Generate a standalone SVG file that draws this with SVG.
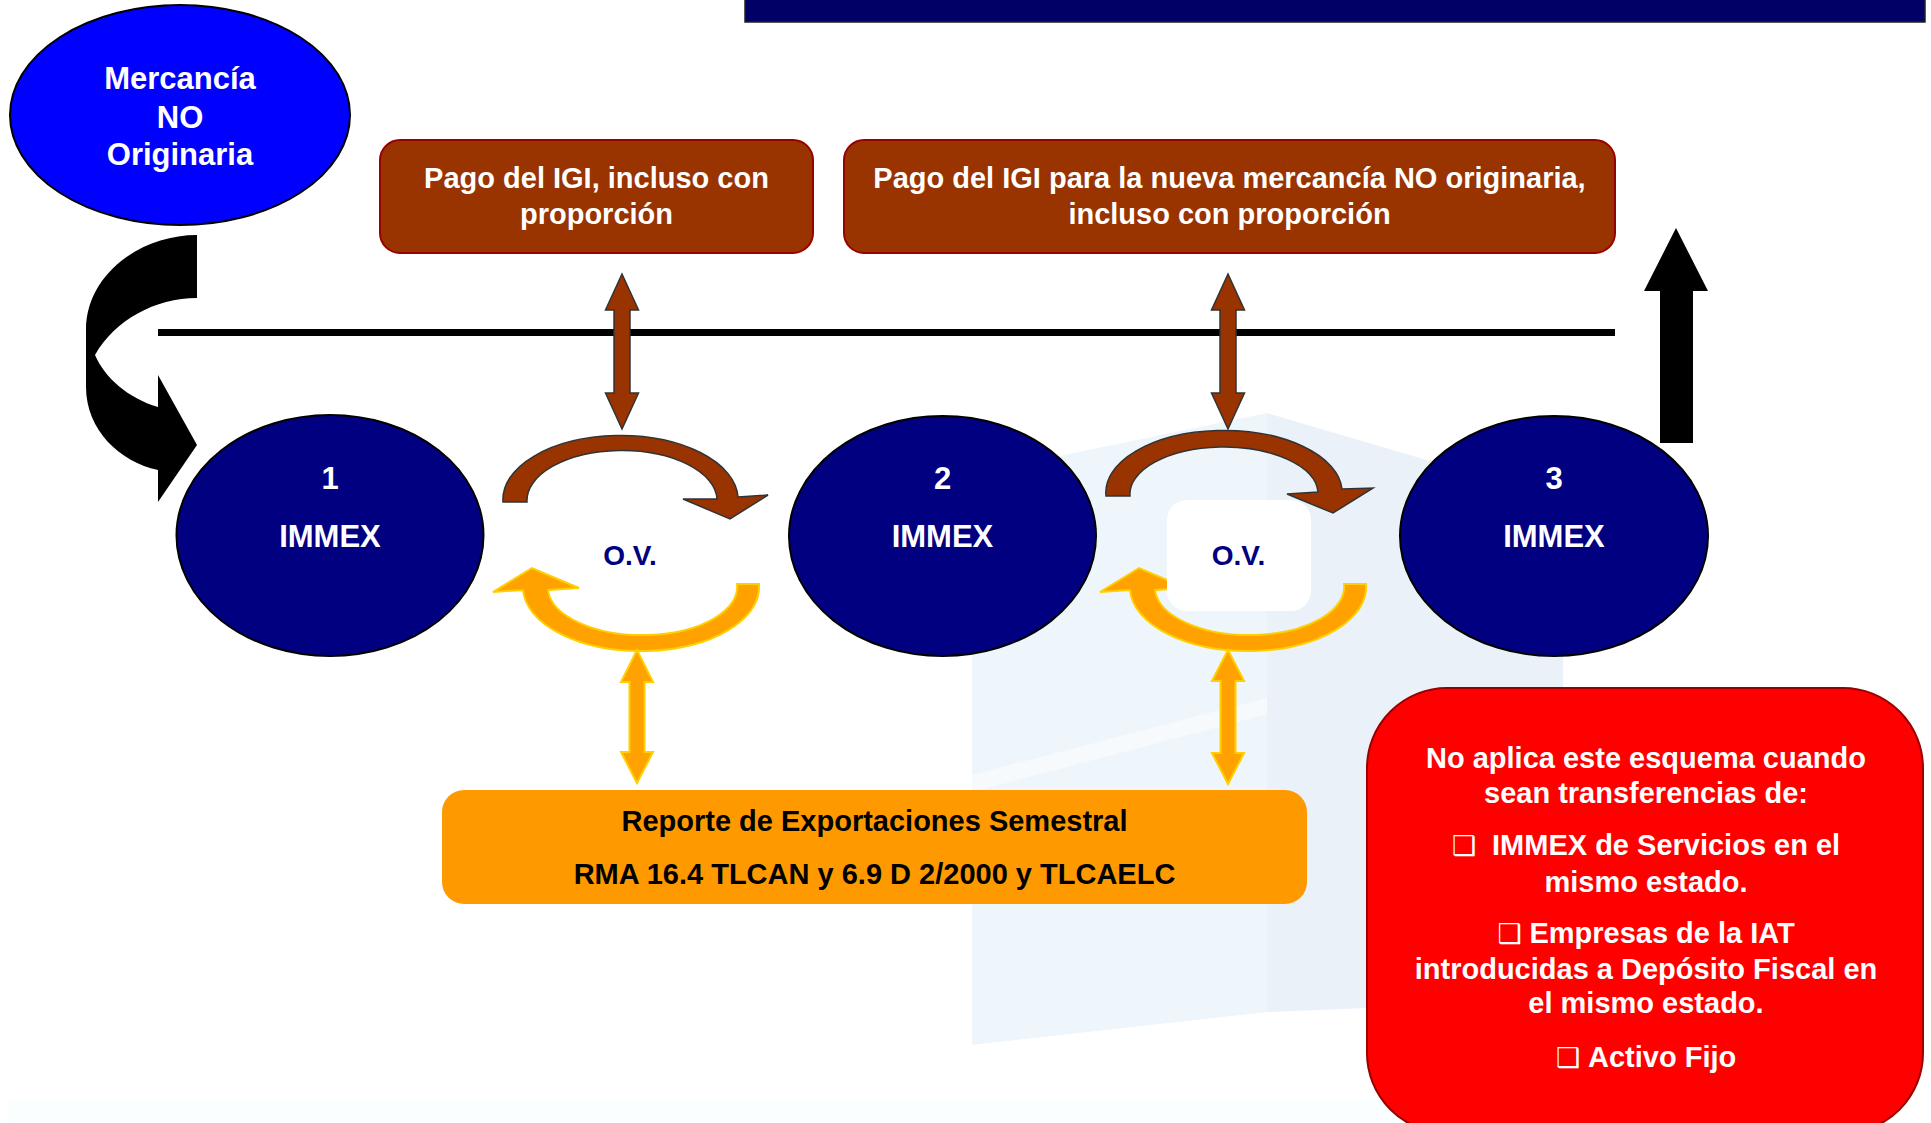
<svg xmlns="http://www.w3.org/2000/svg" width="1931" height="1123" viewBox="0 0 1931 1123">
  <style>
    .lbl { font-family: "Liberation Sans", Arial, "DejaVu Sans", sans-serif; font-weight: bold; text-anchor: middle; }
    .white { fill: #ffffff; }
    .navy { fill: #000080; }
    .dark { fill: #000000; }
    .immex { fill: #000080; stroke: #000000; stroke-width: 2; }
    .brownbox { fill: #993300; stroke: #990000; stroke-width: 2; }
    .brown { fill: #993300; stroke: #333333; stroke-width: 1.5; }
    .orange { fill: #FFA200; stroke: #FFD000; stroke-width: 2; }
    .box { font-family: "DejaVu Sans", sans-serif; font-weight: bold; font-size: 27px; }
  </style>

  <rect width="1931" height="1123" fill="#ffffff"/>

  <!-- faint building watermark in the background -->
  <g id="watermark">
    <polygon points="972,474 1267,413 1267,1012 972,1045" fill="#EEF6FB"/>
    <polygon points="1267,413 1563,500 1563,1000 1267,1012" fill="#EAF1F8"/>
    <polygon points="972,775 1267,698 1267,714 972,792" fill="#F7FAFD"/>
    <rect x="8" y="1100" width="1400" height="23" fill="#FAFEFE"/>
  </g>

  <!-- title bar -->
  <rect x="745" y="-2" width="1180" height="24" fill="#000066" stroke="#222222" stroke-width="1.5"/>

  <g id="connectors">
    <!-- curved arrow from the source ellipse into IMMEX 1 -->
    <path d="M197,235 C140,235 86,275 86,330 L86,387 C86,430 120,462 158,470 L158,502 L197,445 L158,375 L158,407 C128,398 105,378 95,355 C115,320 155,298 197,298 Z" fill="#000000"/>
    <!-- timeline -->
    <line x1="158" y1="332.5" x2="1615" y2="332.5" stroke="#000000" stroke-width="7"/>
    <!-- exit arrow above IMMEX 3 -->
    <path d="M1676,228 L1708,291 L1693,291 L1693,443 L1660,443 L1660,291 L1644,291 Z" fill="#000000"/>

    <!-- payment double arrows -->
    <path class="brown" d="M622,274 L638.5,310 L630,310 L630,393 L638.5,393 L622,429 L605.5,393 L614,393 L614,310 L605.5,310 Z"/>
    <path class="brown" d="M1228,274 L1244.5,310 L1236,310 L1236,393 L1244.5,393 L1228,429 L1211.5,393 L1220,393 L1220,310 L1211.5,310 Z"/>

    <!-- transfer arcs between IMMEX nodes -->
    <path class="brown" d="M503,502 A117.5,64 0 0 1 738,497 L768,495 L730,519 L683,499 L717,499 A95,50 0 0 0 527,502 Z"/>
    <path class="brown" d="M1106,496 A118,62 0 0 1 1342,489 L1373,488 L1333,513 L1287,494 L1318,492 A94,47 0 0 0 1130,496 Z"/>

    <!-- return arcs -->
    <path class="orange" d="M759,584 A118,64 0 0 1 523,590 L493,592 L532,568 L579,588 L548,590 A94.5,48 0 0 0 737,584 Z"/>
    <path class="orange" d="M1366,584 A118,64 0 0 1 1130,590 L1100,592 L1139,568 L1186,588 L1155,590 A94.5,48 0 0 0 1344,584 Z"/>

    <!-- report double arrows -->
    <path class="orange" d="M637,650 L653,682 L644.5,682 L644.5,752 L653,752 L637,783 L621,752 L629.5,752 L629.5,682 L621,682 Z"/>
    <path class="orange" d="M1228,650 L1244,681 L1235.5,681 L1235.5,753 L1244,753 L1228,784 L1212,753 L1220.5,753 L1220.5,681 L1212,681 Z"/>
  </g>

  <g id="mercancia">
    <ellipse cx="180" cy="115" rx="170" ry="110" fill="#0000FF" stroke="#000000" stroke-width="2"/>
    <text class="lbl white" font-size="31" x="180" y="89">Mercancía</text>
    <text class="lbl white" font-size="31" x="180" y="128">NO</text>
    <text class="lbl white" font-size="31" x="180" y="165">Originaria</text>
  </g>

  <g id="pago-igi">
    <rect class="brownbox" x="380" y="140" width="433" height="113" rx="20"/>
    <text class="lbl white" font-size="29" x="596.5" y="188">Pago del IGI, incluso con</text>
    <text class="lbl white" font-size="29" x="596.5" y="224">proporción</text>
  </g>

  <g id="pago-igi-nueva">
    <rect class="brownbox" x="844" y="140" width="771" height="113" rx="20"/>
    <text class="lbl white" font-size="29" x="1229.5" y="188">Pago del IGI para la nueva mercancía NO originaria,</text>
    <text class="lbl white" font-size="29" x="1229.5" y="224">incluso con proporción</text>
  </g>

  <g id="immex-1">
    <ellipse class="immex" cx="330" cy="535.5" rx="153.5" ry="120.5"/>
    <text class="lbl white" font-size="31" x="330" y="489">1</text>
    <text class="lbl white" font-size="31" x="330" y="547">IMMEX</text>
  </g>

  <g id="immex-2">
    <ellipse class="immex" cx="942.5" cy="536" rx="153.5" ry="120"/>
    <text class="lbl white" font-size="31" x="942.5" y="489">2</text>
    <text class="lbl white" font-size="31" x="942.5" y="547">IMMEX</text>
  </g>

  <g id="immex-3">
    <ellipse class="immex" cx="1554" cy="536" rx="154" ry="120"/>
    <text class="lbl white" font-size="31" x="1554" y="489">3</text>
    <text class="lbl white" font-size="31" x="1554" y="547">IMMEX</text>
  </g>

  <g id="ov-1">
    <text class="lbl navy" font-size="28" x="630" y="565">O.V.</text>
  </g>

  <g id="ov-2">
    <rect x="1167" y="500" width="144" height="111" rx="20" fill="#ffffff"/>
    <text class="lbl navy" font-size="28" x="1238.5" y="565">O.V.</text>
  </g>

  <g id="reporte">
    <rect x="442" y="790" width="865" height="114" rx="22" fill="#FF9900"/>
    <text class="lbl dark" font-size="29" x="874.5" y="831">Reporte de Exportaciones Semestral</text>
    <text class="lbl dark" font-size="29" x="874.5" y="884">RMA 16.4 TLCAN y 6.9 D 2/2000 y TLCAELC</text>
  </g>

  <g id="excepciones">
    <rect x="1367" y="688" width="556" height="445" rx="80" ry="80" fill="#FF0000" stroke="#990000" stroke-width="2"/>
    <text class="lbl white" font-size="29" x="1646" y="768">No aplica este esquema cuando</text>
    <text class="lbl white" font-size="29" x="1646" y="803">sean transferencias de:</text>
    <text class="lbl white" font-size="29" x="1646" y="855"><tspan class="box">❑</tspan><tspan dx="16">IMMEX de Servicios en el</tspan></text>
    <text class="lbl white" font-size="29" x="1646" y="892">mismo estado.</text>
    <text class="lbl white" font-size="29" x="1646" y="943"><tspan class="box">❑</tspan><tspan dx="8">Empresas de la IAT</tspan></text>
    <text class="lbl white" font-size="29" x="1646" y="979">introducidas a Depósito Fiscal en</text>
    <text class="lbl white" font-size="29" x="1646" y="1013">el mismo estado.</text>
    <text class="lbl white" font-size="29" x="1646" y="1067"><tspan class="box">❑</tspan><tspan dx="8">Activo Fijo</tspan></text>
  </g>
</svg>
